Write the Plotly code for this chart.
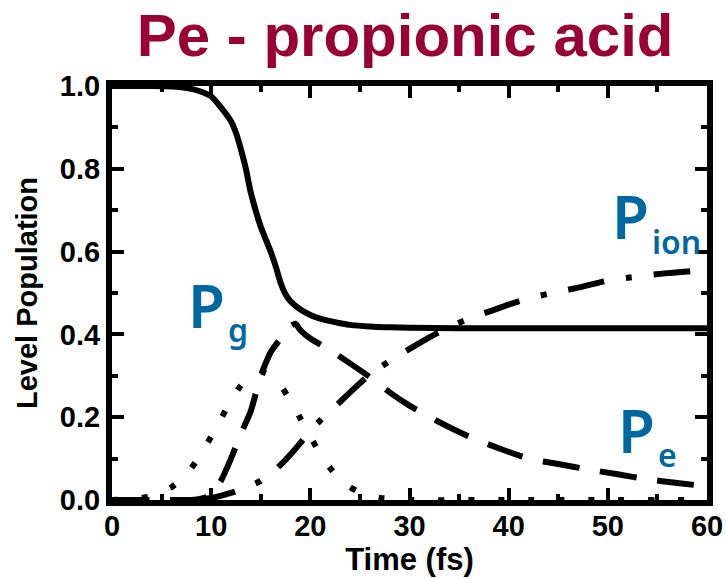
import plotly.graph_objects as go

# ---- data ----
t_g = [0, 2, 4, 6, 7, 8, 9, 10, 11, 12, 12.5, 13, 13.5, 14, 15, 16, 16.5, 17, 17.5, 18, 19, 20, 21, 22, 23, 24, 26, 28, 30, 35, 40, 50, 60]
p_g = [1.0, 1.0, 1.0, 0.999, 0.997, 0.993, 0.986, 0.975, 0.948, 0.915, 0.887, 0.847, 0.8, 0.742, 0.66, 0.6, 0.565,
       0.525, 0.497, 0.48, 0.46, 0.447, 0.438, 0.432, 0.427, 0.423, 0.419, 0.417, 0.416, 0.415, 0.415, 0.415, 0.415]

t_e = [0, 4, 8, 9, 10, 11, 12, 13, 14, 15, 16, 17, 18, 18.5, 19, 20, 22, 24, 26, 28, 30, 33, 36, 39, 42, 45, 48, 51, 54, 57, 60]
p_e = [0.0, 0.0, 0.0, 0.003, 0.012, 0.047, 0.1, 0.16, 0.215, 0.3, 0.357, 0.39, 0.42, 0.426, 0.41, 0.39, 0.362, 0.33,
       0.297, 0.26, 0.228, 0.188, 0.153, 0.125, 0.1, 0.087, 0.074, 0.062, 0.05, 0.041, 0.033]

t_ion = [0, 6, 8, 10, 12, 13, 14, 15, 16, 17, 18, 19, 20, 21, 22, 23, 24, 26, 28, 30, 32, 34, 36, 38, 40, 42, 44, 47, 50, 53, 56, 60]
p_ion = [0.0, 0.0, 0.001, 0.005, 0.017, 0.025, 0.035, 0.046, 0.063, 0.085, 0.11, 0.138, 0.168, 0.192, 0.215, 0.237,
         0.26, 0.303, 0.336, 0.365, 0.393, 0.418, 0.438, 0.455, 0.472, 0.487, 0.498, 0.513, 0.53, 0.54, 0.548, 0.556]

t_pulse = [0, 2, 3, 4, 5, 6, 7, 8, 9, 10, 11, 12, 13, 14, 15, 16, 17, 18, 19, 20, 21, 22, 23, 24, 25, 26, 27, 28, 30, 40, 50, 60]
p_pulse = [0.0, 0.003, 0.005, 0.01, 0.018, 0.031, 0.05, 0.077, 0.112, 0.153, 0.197, 0.24, 0.277, 0.301, 0.31, 0.301,
           0.277, 0.24, 0.197, 0.153, 0.112, 0.077, 0.05, 0.031, 0.018, 0.01, 0.005, 0.003, 0.0, 0.0, 0.0, 0.0]

x_ticks = [0, 10, 20, 30, 40, 50, 60]
y_ticks = [0.0, 0.2, 0.4, 0.6, 0.8, 1.0]

TITLE = "Pe - propionic acid"
X_TITLE = "Time (fs)"
Y_TITLE = "Level Population"

RED = "#990033"
BLUE = "#0068a0"
LABEL_FONT = "Noto Sans"
TITLE_FONT = "Liberation Sans, Arial, sans-serif"
AX_FONT = "Liberation Sans, Arial, sans-serif"

fig = go.Figure()
fig.add_trace(go.Scatter(x=t_pulse, y=p_pulse, mode="lines",
                         line=dict(color="black", width=6, dash="6px,24px", shape="spline", smoothing=0.5)))
fig.add_trace(go.Scatter(x=t_ion, y=p_ion, mode="lines",
                         line=dict(color="black", width=6, dash="37px,22px,6px,22px", shape="spline", smoothing=0.5)))
fig.add_trace(go.Scatter(x=t_e, y=p_e, mode="lines",
                         line=dict(color="black", width=6, dash="37px,21px", shape="spline", smoothing=0.5)))
fig.add_trace(go.Scatter(x=t_g, y=p_g, mode="lines",
                         line=dict(color="black", width=6, shape="spline", smoothing=0.5)))

axis_common = dict(
    showline=True, linewidth=6, linecolor="black", mirror="ticks",
    ticks="inside", ticklen=12, tickwidth=4, tickcolor="black",
    showgrid=False, zeroline=False, automargin=False,
)

fig.update_xaxes(range=[0, 60], tickvals=x_ticks, ticktext=[str(v) for v in x_ticks],
                 minor=dict(dtick=5, ticks="inside", ticklen=6, tickwidth=4, tickcolor="black"),
                 tickfont=dict(family=AX_FONT, size=29, color="black", weight="bold"),
                 ticklabelstandoff=-5,
                 title=dict(text=X_TITLE, font=dict(family=AX_FONT, size=31, color="black", weight="bold"),
                            standoff=4),
                 **axis_common)
fig.update_yaxes(range=[0, 1], tickvals=y_ticks, ticktext=["%.1f" % v for v in y_ticks],
                 minor=dict(dtick=0.1, ticks="inside", ticklen=6, tickwidth=4, tickcolor="black"),
                 tickfont=dict(family=AX_FONT, size=29, color="black", weight="bold"),
                 title=dict(text=Y_TITLE, font=dict(family=AX_FONT, size=29, color="black", weight="bold"),
                            standoff=16),
                 **axis_common)

def lab(x, y, text, size):
    fig.add_annotation(x=x, y=y, xref="x", yref="y", text=text, showarrow=False,
                       xanchor="left", yanchor="middle", borderpad=0,
                       font=dict(family=LABEL_FONT, size=size, color=BLUE, weight=600))

lab(7.56, 0.472, "P", 60)
lab(11.62, 0.412, "g", 32)
lab(50.3, 0.685, "P", 60)
lab(54.36, 0.624, "ion", 32)
lab(50.9, 0.170, "P", 60)
lab(54.96, 0.109, "e", 32)

fig.update_layout(
    width=726, height=579,
    margin=dict(l=112, r=19, t=86, b=79),
    paper_bgcolor="white", plot_bgcolor="white",
    showlegend=False,
    title=dict(text=TITLE, x=0.558, xanchor="center", y=0.939, yanchor="middle",
               font=dict(family=TITLE_FONT, size=60, color=RED, weight="bold")),
)

fig.write_html("out.html")
